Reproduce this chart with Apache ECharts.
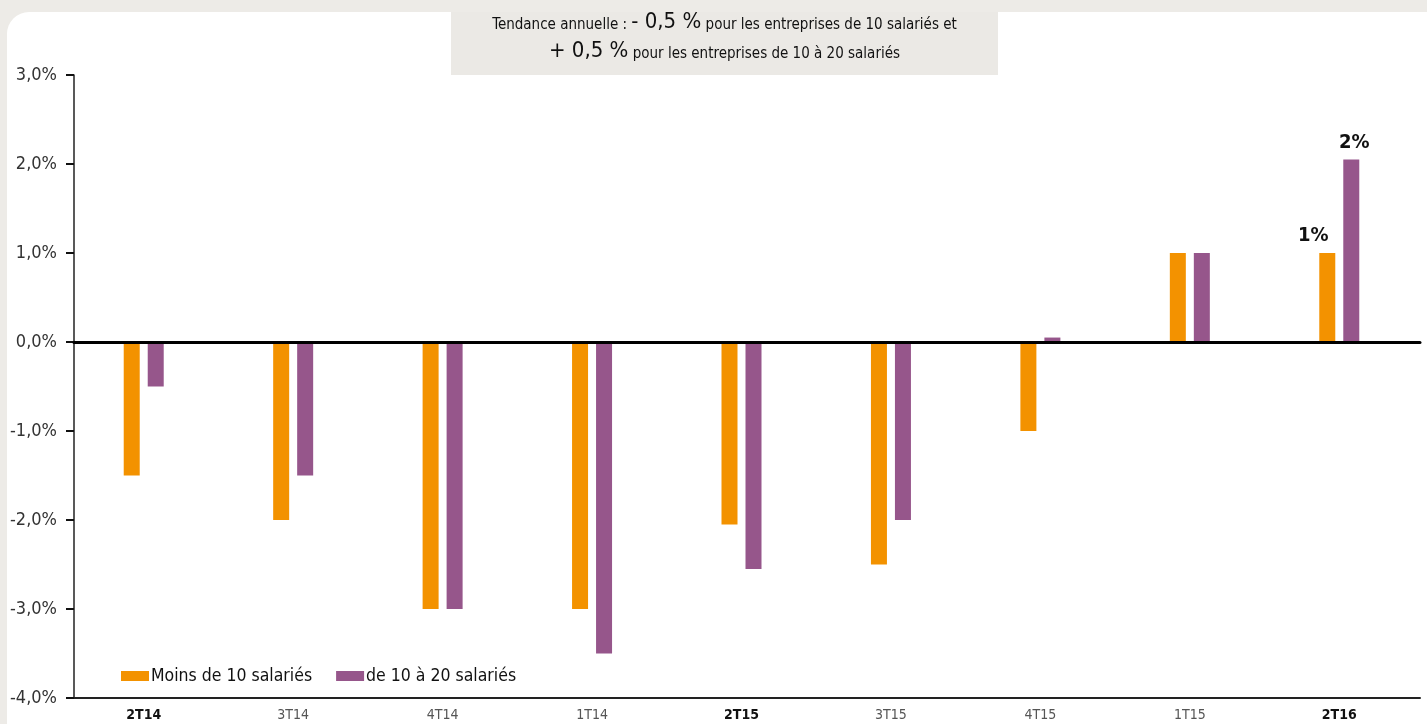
<!DOCTYPE html>
<html>
<head>
<meta charset="utf-8">
<script src="https://cdn.jsdelivr.net/npm/echarts@6/dist/echarts.min.js"></script>
<style>
  html, body { margin: 0; padding: 0; background: #EDEBE7; }
  #chart { width: 1427px; height: 724px; }
</style>
</head>
<body>
<div id="chart"></div>
<script>
// Quarterly change in headcount, by company size (%)
const quarters = ['2T14', '3T14', '4T14', '1T14', '2T15', '3T15', '4T15', '1T15', '2T16'];
const boldQuarters = ['2T14', '2T15', '2T16'];
const moinsDe10 = [-1.5, -2.0, -3.0, -3.0, -2.05, -2.5, -1.0, 1.0, 1.0];
const de10a20 = [-0.5, -1.5, -3.0, -3.5, -2.55, -2.0, 0.05, 1.0, 2.05];
const labelledQuarters = ['2T16'];
const yTicks = { min: -4, max: 3, interval: 1 };

const FONT = '"Liberation Sans Narrow", "DejaVu Sans Condensed", "Arial Narrow", sans-serif';
const ORANGE = '#F39200';
const PURPLE = '#96568B';

function pctLabel(params) {
  return Math.round(params.value) + '%';
}

function seriesData(values, labelOffset) {
  return values.map((v, i) => {
    const item = { value: v };
    if (labelledQuarters.includes(quarters[i])) {
      item.label = {
        show: true, position: 'top', distance: 7, offset: labelOffset,
        formatter: pctLabel, fontFamily: FONT, fontSize: 20, fontWeight: 'bold', color: '#111'
      };
    }
    return item;
  });
}

const chart = echarts.init(document.getElementById('chart'));
chart.setOption({
  animation: false,
  backgroundColor: '#EDEBE7',
  textStyle: { fontFamily: FONT },
  graphic: [
    {
      type: 'rect', z: -10, silent: true,
      shape: { x: 7, y: 12, width: 1440, height: 740, r: [22, 0, 0, 0] },
      style: { fill: '#FFFFFF' }
    },
    {
      type: 'rect', z: -9, silent: true,
      shape: { x: 451, y: 12, width: 547, height: 63 },
      style: { fill: '#EBE9E5' }
    },
    {
      type: 'text', z: 5, silent: true,
      x: 724.5, y: 4,
      style: {
        text: '{s|Tendance annuelle : }{b|- 0,5 %}{s| pour les entreprises de 10 salariés et}\n{b|+ 0,5 %}{s| pour les entreprises de 10 à 20 salariés}',
        align: 'center', verticalAlign: 'top', fill: '#111',
        rich: {
          s: { fontFamily: FONT, fontSize: 15, fill: '#111', lineHeight: 29, verticalAlign: 'bottom' },
          b: { fontFamily: FONT, fontSize: 22, fill: '#111', lineHeight: 29, verticalAlign: 'bottom' }
        }
      }
    }
  ],
  legend: {
    left: 116, top: 662,
    itemWidth: 28, itemHeight: 10, itemGap: 24,
    icon: 'rect',
    textStyle: { fontFamily: FONT, fontSize: 17.5, color: '#111', padding: [0, 0, 0, -3] },
    data: ['Moins de 10 salariés', 'de 10 à 20 salariés']
  },
  grid: [
    { left: 69, right: 13, top: 75, bottom: 26 },
    { left: 74, right: 7, top: 75, bottom: 26 }
  ],
  xAxis: [
    {
      gridIndex: 0, type: 'category', data: quarters,
      axisLine: { show: false }, axisTick: { show: false },
      axisLabel: {
        margin: 10,
        formatter: v => boldQuarters.includes(v) ? '{b|' + v + '}' : '{n|' + v + '}',
        rich: {
          b: { fontFamily: FONT, fontSize: 14, fontWeight: 'bold', color: '#111' },
          n: { fontFamily: FONT, fontSize: 14, color: '#555' }
        }
      }
    },
    {
      // bottom axis line
      gridIndex: 1, type: 'category', data: quarters, position: 'bottom',
      axisLine: { show: true, onZero: false, lineStyle: { color: '#222', width: 2 } },
      axisTick: { show: false }, axisLabel: { show: false }
    },
    {
      // zero line
      gridIndex: 1, type: 'category', data: quarters, position: 'top',
      axisLine: { show: true, onZero: true, lineStyle: { color: '#000', width: 3 } },
      axisTick: { show: false }, axisLabel: { show: false }, z: 10
    }
  ],
  yAxis: [
    {
      gridIndex: 0, type: 'value', min: yTicks.min, max: yTicks.max, interval: yTicks.interval,
      show: false, splitLine: { show: false }
    },
    {
      gridIndex: 1, type: 'value', min: yTicks.min, max: yTicks.max, interval: yTicks.interval,
      axisLine: { show: true, lineStyle: { color: '#222', width: 1.5 } },
      axisTick: { show: true, length: 8, lineStyle: { color: '#111', width: 2 } },
      splitLine: { show: false },
      axisLabel: {
        margin: 17, fontFamily: FONT, fontSize: 18, color: '#333',
        formatter: v => v.toFixed(1).replace('.', ',') + '%'
      }
    }
  ],
  series: [
    {
      name: 'Moins de 10 salariés', type: 'bar', xAxisIndex: 0, yAxisIndex: 0,
      barWidth: 16, barGap: '50%',
      itemStyle: { color: ORANGE },
      data: seriesData(moinsDe10, [-14, 0])
    },
    {
      name: 'de 10 à 20 salariés', type: 'bar', xAxisIndex: 0, yAxisIndex: 0,
      barWidth: 16, barGap: '50%',
      itemStyle: { color: PURPLE },
      data: seriesData(de10a20, [3, 0])
    }
  ]
});
</script>
</body>
</html>
